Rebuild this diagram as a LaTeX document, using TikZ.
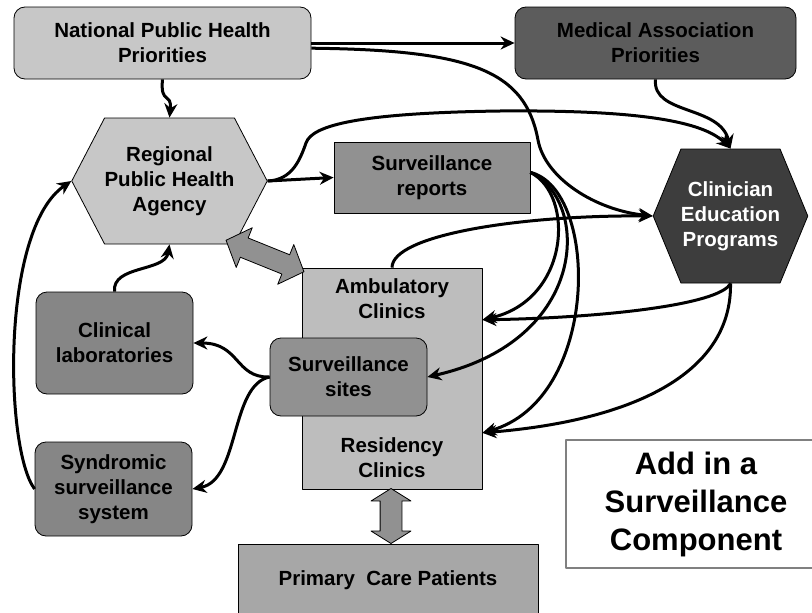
\documentclass[tikz,border=0pt]{standalone}
\usepackage{fontspec}
\setmainfont{Liberation Sans}
\usetikzlibrary{shapes.symbols,shapes.arrows,arrows.meta}

\definecolor{lightbox}{gray}{0.78}
\definecolor{midbox}{gray}{0.57}
\definecolor{darkbox}{gray}{0.36}
\definecolor{darkhex}{gray}{0.24}

\begin{document}
\begin{tikzpicture}[x=1pt,y=-1pt,line join=round,
    box/.style={draw,line width=0.8pt,align=center,inner sep=0pt,text=black,
      font=\bfseries\fontsize{20.5}{25}\selectfont},
    rbox/.style={box,rounded corners=11pt},
    hexa/.style={box,signal,signal to=west and east},
    fatarrow/.style={double arrow,draw,line width=0.8pt,fill=midbox,inner xsep=0pt},
    arr/.style={line width=3pt,-{Stealth[length=14pt,width=13pt]}} ]
    \useasboundingbox (0,0) rectangle (812,613);
    % boxes
    \node at (162.5,43) [rbox,fill=lightbox,minimum width=297pt,minimum height=72pt] (nat) {National Public Health\\Priorities};
    \node at (655.5,43) [rbox,fill=darkbox,minimum width=281pt,minimum height=72pt,text=black] (med) {Medical Association\\Priorities};
    \node at (169.5,181) [hexa,fill=lightbox,minimum width=185pt,minimum height=126pt,signal pointer angle=125] (reg) {Regional\\Public Health\\Agency};
    \node at (432,177.5) [box,fill=midbox,minimum width=196pt,minimum height=71pt] (rep) {Surveillance\\reports};
    \node at (730.5,216) [hexa,fill=darkhex,minimum width=151pt,minimum height=134pt,signal pointer angle=135,text=white] (edu) {Clinician\\Education\\Programs};
    \node at (392,378.5) [box,fill=lightbox!95!black,minimum width=180pt,minimum height=221pt] (clin) {};
    \node at (392,299) [box,draw=none] (amb) {Ambulatory\\Clinics};
    \node at (392,458) [box,draw=none] (res) {Residency\\Clinics};
    \node at (348.5,377) [rbox,fill=midbox,minimum width=157pt,minimum height=78pt] (sites) {Surveillance\\sites};
    \node at (114.5,343) [rbox,fill=midbox!110!white,minimum width=157pt,minimum height=102pt] (lab) {Clinical\\laboratories};
    \node at (113.5,489) [rbox,fill=midbox!110!white,minimum width=157pt,minimum height=94pt] (synd) {Syndromic\\surveillance\\system};
    \node at (388,580) [box,fill=midbox!80!white,minimum width=300pt,minimum height=72pt] (pat) {Primary\ \ Care Patients};
    \node at (696,504) [draw=gray,line width=2.5pt,fill=white,minimum width=260pt,minimum height=128pt,align=center,
      font=\bfseries\fontsize{31}{38}\selectfont] (note) {Add in a\\Surveillance\\Component};
    % fat arrows
    \node at (265,256) [fatarrow,rotate=-22,minimum height=84pt,minimum width=42pt,inner ysep=10pt,double arrow head extend=11pt,double arrow tip angle=95] (dbl1) {};
    \node at (391,516) [fatarrow,rotate=90,minimum height=55pt,minimum width=39pt,inner ysep=10.5pt,double arrow head extend=9pt,double arrow tip angle=116] (dbl2) {};
    % connectors
    \draw [arr] (nat.south) .. controls (160,105) and (172,92) .. (reg.north);
    \draw [arr] (nat.east) -- (med.west);
    \draw [arr] (nat.-2) .. controls (470,50) and (525,70) .. (538,140) .. controls (545,178) and (595,210) .. (edu.west);
    \draw [arr] (med.south) .. controls (652,115) and (720,105) .. (edu.north);
    \draw [arr] (reg.east) .. controls (292,180) and (300,160) .. (306,143) .. controls (312,125) and (360,113) .. (500,111) .. controls (620,110) and (700,118) .. (edu.north);
    \draw [arr] (reg.east) -- (rep.west);
    \draw [arr] (clin.north) .. controls (392,235) and (520,215) .. (edu.west);
    \draw [arr] (rep.3) .. controls (575,195) and (570,300) .. (clin.33);
    \draw [arr] (rep.3) .. controls (590,200) and (590,340) .. (sites.east);
    \draw [arr] (rep.3) .. controls (600,190) and (600,400) .. (clin.-31);
    \draw [arr] (edu.south) .. controls (720,305) and (600,318) .. (clin.33);
    \draw [arr] (edu.south) .. controls (732,370) and (640,420) .. (clin.-31);
    \draw [arr] (sites.west) .. controls (235,378) and (240,343) .. (lab.east);
    \draw [arr] (sites.west) .. controls (230,385) and (240,480) .. (synd.east);
    \draw [arr] (synd.west) .. controls (5,450) and (0,230) .. (reg.west);
    \draw [arr] (lab.north) .. controls (112,265) and (165,272) .. (reg.south);
\end{tikzpicture}
\end{document}
